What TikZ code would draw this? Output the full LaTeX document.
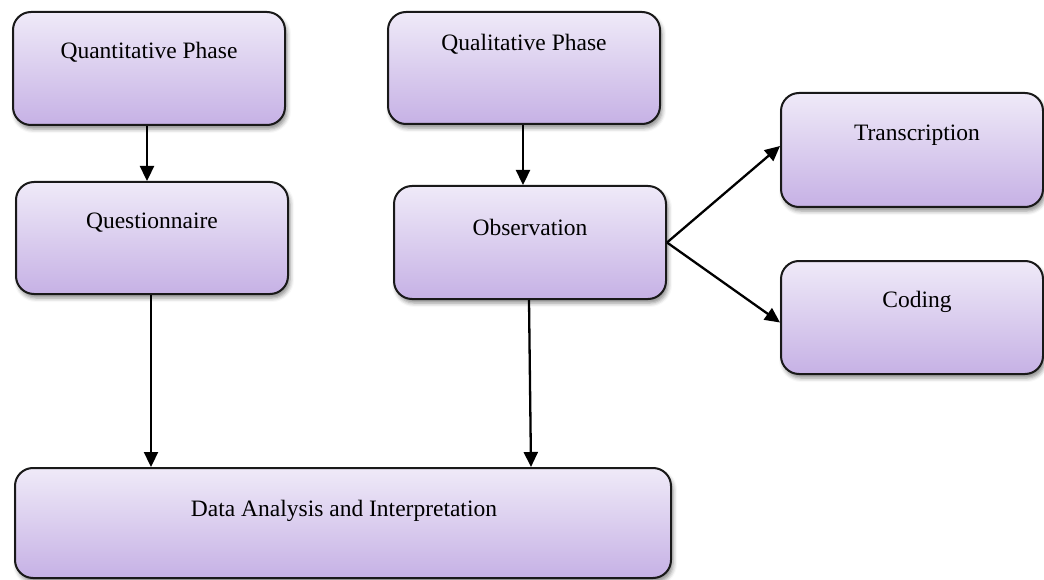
\documentclass[tikz,border=0pt]{standalone}
\usepackage{fontspec}
\setmainfont{Liberation Serif}
\usetikzlibrary{arrows.meta,shadows.blur,calc}
\definecolor{boxtop}{HTML}{EFEAF8}
\definecolor{boxbot}{HTML}{C6B1E5}
\begin{document}
\begin{tikzpicture}[x=1pt,y=-1pt,
  pbox/.style={draw=black!90, line width=2pt, rounded corners=18pt,
    top color=boxtop, bottom color=boxbot, inner sep=0pt,
    blur shadow={shadow xshift=2pt, shadow yshift=-4pt, shadow blur radius=4pt, shadow opacity=45}},
  ptext/.style={font=\fontsize{23.5}{28}\selectfont, inner sep=0pt, anchor=center},
  parrow/.style={line width=2.3pt, -{Triangle[length=15pt,width=14pt]}}]
\useasboundingbox (0,0) rectangle (1044,580);
% boxes
\node[pbox, minimum width=272pt, minimum height=113pt, anchor=north west] (quant) at (12,11) {};
\node[pbox, minimum width=272pt, minimum height=112pt, anchor=north west] (qual) at (387,11) {};
\node[pbox, minimum width=272pt, minimum height=112pt, anchor=north west] (quest) at (15,181) {};
\node[pbox, minimum width=272pt, minimum height=113pt, anchor=north west] (obs) at (393,185) {};
\node[pbox, minimum width=262pt, minimum height=114pt, anchor=north west] (trans) at (780,92) {};
\node[pbox, minimum width=262pt, minimum height=113pt, anchor=north west] (cod) at (780,260) {};
\node[pbox, minimum width=656pt, minimum height=110pt, anchor=north west] (data) at (14,467) {};
% texts
\node[ptext] (quantt) at ($(quant.north)+(0,41)$) {Quantitative Phase};
\node[ptext] (qualt) at ($(qual.north)+(0,33)$) {Qualitative Phase};
\node[ptext] (questt) at ($(quest.north)+(0,42)$) {Questionnaire};
\node[ptext] (obst) at ($(obs.north)+(0,42)$) {Observation};
\node[ptext] (transt) at ($(trans.north)+(5,43)$) {Transcription};
\node[ptext] (codt) at ($(cod.north)+(5,42)$) {Coding};
\node[ptext] (datat) at ($(data.north)+(1,44)$) {Data Analysis and Interpretation};
% arrows
\draw[parrow] (quant.south -| 147,0) -- (quest.north -| 147,0);
\draw[parrow] (qual.south -| 523,0) -- (obs.north -| 523,0);
\draw[parrow] (quest.south -| 151,0) -- (data.north -| 151,0);
\draw[parrow] ($(obs.south)+(-1,0)$) -- (531,467);
\coordinate (split) at (obs.east);
\draw[parrow] (split) -- ($(trans.west)+(0,-4)$);
\draw[parrow] (split) -- ($(cod.west)+(0,5)$);
\end{tikzpicture}
\end{document}
